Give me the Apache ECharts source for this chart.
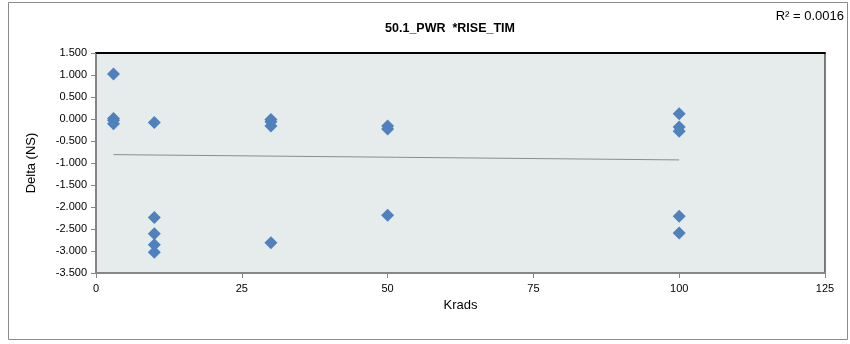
<!DOCTYPE html>
<html><head><meta charset="utf-8">
<script src="https://cdn.jsdelivr.net/npm/echarts@6/dist/echarts.min.js"></script>
<style>html,body{margin:0;padding:0;background:#fff}#c{width:850px;height:344px}</style>
</head><body><div id="c"></div>
<script>
const xValues = [3, 3, 3, 3, 10, 10, 10, 10, 10, 30, 30, 30, 30, 50, 50, 50, 100, 100, 100, 100, 100];
const yValues = [1.02, 0.01, -0.03, -0.11, -0.08, -2.24, -2.61, -2.86, -3.03, -0.01, -0.06, -0.16, -2.81, -0.16, -0.23, -2.19, 0.12, -0.18, -0.28, -2.21, -2.59];
const trendX = [3, 100];
const trendY = [-0.81, -0.93];
const xTicks = [0, 25, 50, 75, 100, 125];
const yTicks = [-3.5, -3, -2.5, -2, -1.5, -1, -0.5, 0, 0.5, 1, 1.5];
const titleText = '50.1_PWR  *RISE_TIM';
const r2Text = 'R² = 0.0016';

const font = 'Liberation Sans, Arial, sans-serif';
const chart = echarts.init(document.getElementById('c'), null, {renderer: 'canvas'});
chart.setOption({
  animation: false,
  backgroundColor: '#fff',
  title: {text: titleText, left: 445, top: 17, textAlign: 'center',
    textStyle: {fontFamily: font, fontSize: 12.5, fontWeight: 'bold', color: '#000'}},
  graphic: [
    {type: 'rect', shape: {x: 8.5, y: 2.5, width: 839, height: 337}, style: {fill: 'none', stroke: '#8c8c8c', lineWidth: 1}, z: -1},
    {type: 'text', right: 6, top: 10, style: {text: r2Text, fontFamily: font, fontSize: 13, fill: '#000'}}
  ],
  grid: {left: 96, right: 25, top: 53, bottom: 71, show: true, backgroundColor: '#E6ECEC', borderColor: '#000', borderWidth: 1},
  xAxis: [{
    type: 'value', min: xTicks[0], max: xTicks[xTicks.length - 1], interval: 25,
    name: 'Krads', nameLocation: 'middle', nameGap: 25,
    nameTextStyle: {fontFamily: font, fontSize: 13, color: '#000'},
    axisLine: {show: true, onZero: false, lineStyle: {color: '#868686', width: 2}},
    axisTick: {show: true, length: 5, lineStyle: {color: '#868686'}},
    axisLabel: {fontFamily: font, fontSize: 11, color: '#000', margin: 10},
    splitLine: {show: false}
  }, {
    type: 'value', position: 'top', min: 0, max: 125,
    axisLine: {show: true, onZero: false, lineStyle: {color: '#000', width: 2}},
    axisTick: {show: false}, axisLabel: {show: false}, splitLine: {show: false}
  }],
  yAxis: {
    type: 'value', min: yTicks[0], max: yTicks[yTicks.length - 1], interval: 0.5,
    name: 'Delta (NS)', nameLocation: 'middle', nameGap: 58, nameRotate: 90,
    nameTextStyle: {fontFamily: font, fontSize: 13, color: '#000'},
    axisLine: {show: true, onZero: false, lineStyle: {color: '#868686', width: 2}},
    axisTick: {show: true, length: 5, lineStyle: {color: '#868686'}},
    axisLabel: {fontFamily: font, fontSize: 11, color: '#000', margin: 9, formatter: v => v.toFixed(3)},
    splitLine: {show: false}
  },
  series: [{
    type: 'scatter', symbol: 'diamond', symbolSize: 13,
    itemStyle: {color: '#4F81BD', opacity: 1},
    data: xValues.map((x, i) => [x, yValues[i]]), z: 3
  }, {
    type: 'line', symbol: 'none', silent: true,
    lineStyle: {color: '#8c8c8c', width: 1},
    data: trendX.map((x, i) => [x, trendY[i]]), z: 2
  }]
});
</script></body></html>
